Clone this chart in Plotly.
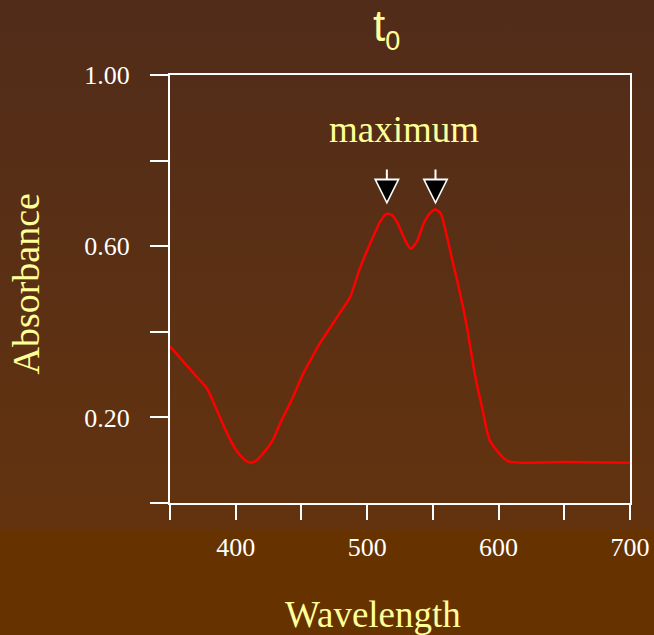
import numpy as np
import plotly.graph_objects as go
import urllib.parse

# ---------------- data ----------------
wavelength = [350, 360, 370, 378, 385, 392, 400, 406, 411, 416, 422, 428, 435, 442,
              451, 458, 464, 472, 479, 487, 494, 500, 505, 510, 515, 519, 523, 528,
              533, 538, 543, 548, 552, 556, 560, 565, 570, 576, 582, 588, 593.5, 607,
              650, 700]
absorbance = [0.366, 0.331, 0.296, 0.268, 0.222, 0.172, 0.125, 0.103, 0.094, 0.100,
              0.120, 0.146, 0.194, 0.237, 0.300, 0.340, 0.373, 0.410, 0.443, 0.481,
              0.544, 0.590, 0.625, 0.658, 0.676, 0.672, 0.655, 0.620, 0.594, 0.612,
              0.653, 0.678, 0.686, 0.676, 0.632, 0.565, 0.500, 0.410, 0.300, 0.215,
              0.145, 0.098, 0.096, 0.094]

x_tick_vals = [350, 400, 450, 500, 550, 600, 650, 700]
x_tick_text = ["", "400", "", "500", "", "600", "", "700"]
y_tick_vals = [0.0, 0.2, 0.4, 0.6, 0.8, 1.0]
y_tick_text = ["", "0.20", "", "0.60", "", "1.00"]

chart_title = "t<sub><span style='font-size:27px'>0</span></sub>"
x_title = "Wavelength"
y_title = "Absorbance"
peak_label = "maximum"

# ---------------- styling ----------------
W, H = 654, 635
ML, MR, MT, MB = 170, 16, 75, 132
PLOT_RIGHT = 630          # intended right edge of the plot box in pixels
PW, PH = PLOT_RIGHT - ML, H - MT - MB
YELLOW = "#ffff99"
SERIF = "Liberation Serif, Times New Roman, serif"
SANS = "Liberation Sans, Arial, sans-serif"


def px_to_paper_x(px):
    return (px - ML) / PW


def px_to_paper_y(py):
    return (H - MB - py) / PH


# gradient background as an inline SVG image
svg = (
    f"<svg xmlns='http://www.w3.org/2000/svg' width='{W}' height='{H}' viewBox='0 0 {W} {H}' preserveAspectRatio='none'>"
    "<defs><linearGradient id='g' x1='0' y1='0' x2='0' y2='1'>"
    "<stop offset='0' stop-color='#512c1a'/><stop offset='1' stop-color='#63330f'/>"
    "</linearGradient></defs>"
    f"<rect x='0' y='0' width='{W}' height='530' fill='url(#g)'/>"
    f"<rect x='0' y='530' width='{W}' height='{H-530}' fill='#663300'/>"
    "</svg>"
)
svg_uri = "data:image/svg+xml;charset=utf-8," + urllib.parse.quote(svg)

fig = go.Figure()
fig.add_trace(go.Scatter(
    x=wavelength, y=absorbance, mode="lines",
    line=dict(color="#ff0000", width=2.5, shape="spline", smoothing=0.6),
    hoverinfo="skip", showlegend=False,
))

# peaks (local maxima) from the data
a = np.array(absorbance)
wl = np.array(wavelength)
peaks = [i for i in range(1, len(a) - 1) if a[i] > a[i - 1] and a[i] >= a[i + 1] and a[i] > 0.5]
ytop = float(a[peaks].max())

annotations = []
for i in peaks:
    # white outline + stem
    annotations.append(dict(
        x=float(wl[i]), y=ytop, xref="x", yref="y", text=" ", font=dict(size=1),
        showarrow=True, arrowhead=2, arrowsize=2.6, arrowwidth=2, arrowcolor="white",
        ax=0, ay=-37, standoff=0, yshift=5,
    ))
    # black triangle
    annotations.append(dict(
        x=float(wl[i]), y=ytop, xref="x", yref="y", text=" ", font=dict(size=1),
        showarrow=True, arrowhead=2, arrowsize=2.05, arrowwidth=2, arrowcolor="black",
        ax=0, ay=-16, standoff=3.5, yshift=5,
    ))

annotations += [
    dict(text=peak_label, x=px_to_paper_x(400), y=px_to_paper_y(129), xref="paper", yref="paper",
         showarrow=False, font=dict(family=SERIF, size=37, color=YELLOW), xanchor="center", yanchor="middle"),
    dict(text=chart_title, x=px_to_paper_x(383), y=px_to_paper_y(0), xref="paper", yref="paper",
         showarrow=False, font=dict(family=SANS, size=44, color=YELLOW), xanchor="center", yanchor="top",
         borderpad=0),
    dict(text=y_title, x=px_to_paper_x(28), y=px_to_paper_y(284), xref="paper", yref="paper",
         showarrow=False, textangle=-90, font=dict(family=SERIF, size=38, color=YELLOW),
         xanchor="center", yanchor="middle"),
    dict(text=x_title, x=px_to_paper_x(370), y=px_to_paper_y(614), xref="paper", yref="paper",
         showarrow=False, font=dict(family=SERIF, size=37, color=YELLOW), xanchor="center", yanchor="middle"),
]

axis_common = dict(showgrid=False, zeroline=False, tickcolor="white", tickwidth=2, automargin=False)

fig.update_layout(
    width=W, height=H,
    margin=dict(l=ML, r=MR, t=MT, b=MB, pad=0, autoexpand=False),
    paper_bgcolor="#5a3014", plot_bgcolor="rgba(0,0,0,0)",
    images=[dict(source=svg_uri, xref="paper", yref="paper",
                 x=px_to_paper_x(0), y=px_to_paper_y(0), sizex=W / PW, sizey=H / PH,
                 xanchor="left", yanchor="top", sizing="stretch", layer="below")],
    xaxis=dict(range=[350, 700], domain=[0, PW / (W - ML - MR)], tickvals=x_tick_vals,
               ticktext=x_tick_text, ticks="outside",
               ticklen=15, showline=True, linecolor="white", linewidth=2, mirror=True,
               tickfont=dict(family=SERIF, size=26, color="white"), ticklabelstandoff=5,
               **axis_common),
    xaxis2=dict(range=[350, 700], domain=[0, PW / (W - ML - MR)], overlaying="x", side="bottom",
                tickvals=x_tick_vals, ticks="inside",
                ticklen=6, showticklabels=False, showline=False, **axis_common),
    yaxis=dict(range=[0, 1], tickvals=y_tick_vals, ticktext=y_tick_text, ticks="outside",
               ticklen=18, showline=True, linecolor="white", linewidth=2, mirror=True,
               tickfont=dict(family=SERIF, size=26, color="white"), ticklabelstandoff=15,
               **axis_common),
    yaxis2=dict(range=[0, 1], overlaying="y", side="right", tickvals=y_tick_vals, ticks="outside",
                ticklen=10, showticklabels=False, showline=False, **axis_common),
    yaxis3=dict(range=[0, 1], overlaying="y", side="right", tickvals=y_tick_vals, ticks="inside",
                ticklen=10, showticklabels=False, showline=False, **axis_common),
    annotations=annotations,
    showlegend=False,
)

fig.write_html("out.html")
